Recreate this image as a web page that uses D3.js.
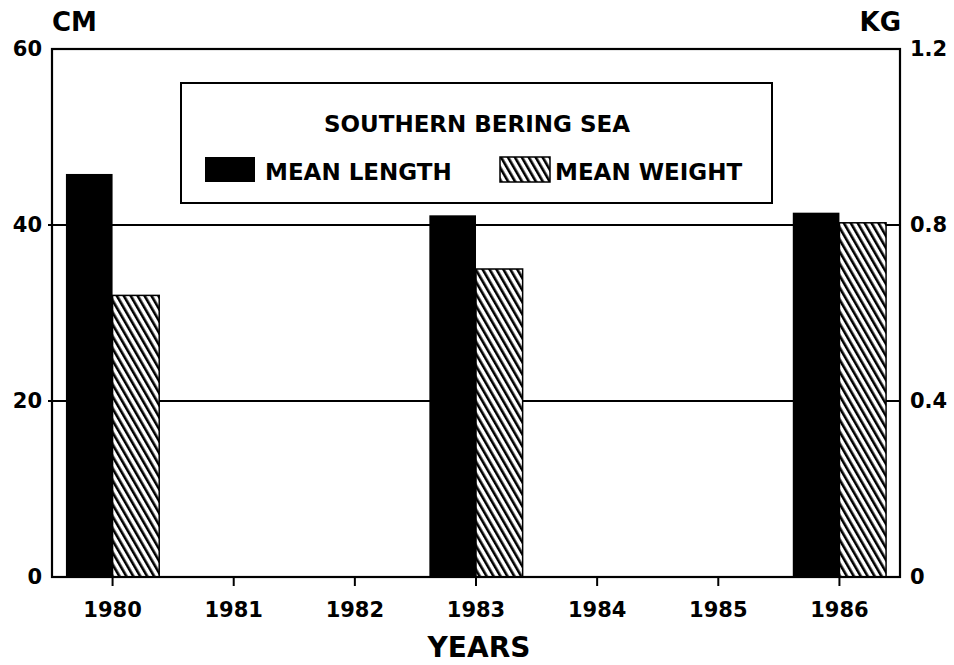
<!DOCTYPE html>
<html><head><meta charset="utf-8">
<script src="https://cdn.jsdelivr.net/npm/d3@7"></script>
<style>body{margin:0;background:#fff}svg{display:block}text{font-family:"DejaVu Sans",sans-serif;fill:#000}</style>
</head><body><svg id="c" width="954" height="665"></svg>
<script>
const years = ["1980","1981","1982","1983","1984","1985","1986"];
const meanLength = [45.8, null, null, 41.1, null, null, 41.4];   // CM
const meanWeight = [0.64, null, null, 0.70, null, null, 0.805];  // KG
const cmTicks = [0, 20, 40, 60];
const kgTicks = [0, 0.4, 0.8, 1.2];
const gridTicks = [20, 40];

const svg = d3.select("#c");
const L = 52, R = 900, T = 49, B = 577;
const FONT = "'DejaVu Sans', sans-serif";

const x = d3.scaleBand().domain(years).range([L, R]).padding(0);
const yCm = d3.scaleLinear().domain([0, 60]).range([B, T]);
const yKg = d3.scaleLinear().domain([0, 1.2]).range([B, T]);
const barW = x.bandwidth() * 0.385;

// hatch pattern
const defs = svg.append("defs");
const pat = defs.append("pattern").attr("id", "hatch").attr("patternUnits", "userSpaceOnUse")
  .attr("width", 6).attr("height", 6).attr("patternTransform", "rotate(-30)");
pat.append("rect").attr("width", 6).attr("height", 6).attr("fill", "#fff");
pat.append("rect").attr("x", 0).attr("width", 2.6).attr("height", 6).attr("fill", "#000");

// gridlines
svg.append("g").selectAll("line").data(gridTicks).join("line")
  .attr("x1", L - 4).attr("x2", R).attr("y1", d => yCm(d)).attr("y2", d => yCm(d))
  .attr("stroke", "#000").attr("stroke-width", 2);

// bars
const lenData = years.map((y, i) => ({y, v: meanLength[i]})).filter(d => d.v != null);
const wtData = years.map((y, i) => ({y, v: meanWeight[i]})).filter(d => d.v != null);
svg.append("g").selectAll("rect").data(lenData).join("rect")
  .attr("x", d => x(d.y) + x.bandwidth() / 2 - barW).attr("width", barW)
  .attr("y", d => yCm(d.v)).attr("height", d => B - yCm(d.v))
  .attr("fill", "#000");
svg.append("g").selectAll("rect").data(wtData).join("rect")
  .attr("x", d => x(d.y) + x.bandwidth() / 2).attr("width", barW)
  .attr("y", d => yKg(d.v)).attr("height", d => B - yKg(d.v))
  .attr("fill", "url(#hatch)").attr("stroke", "#000").attr("stroke-width", 1.5);

// frame
svg.append("rect").attr("x", L).attr("y", T).attr("width", R - L).attr("height", B - T)
  .attr("fill", "none").attr("stroke", "#000").attr("stroke-width", 2.2);

function styleText(sel, size) {
  sel.selectAll("text").attr("font-size", size).attr("font-weight", "bold").attr("font-family", FONT);
}

// bottom axis
const xa = svg.append("g").attr("transform", `translate(0,${B})`)
  .call(d3.axisBottom(x).tickSize(9).tickPadding(16));
xa.select(".domain").remove();
xa.selectAll("line").attr("stroke", "#000").attr("stroke-width", 2);
styleText(xa, 21);

// left axis
const ya = svg.append("g").attr("transform", `translate(${L},0)`)
  .call(d3.axisLeft(yCm).tickValues(cmTicks).tickSize(0).tickPadding(10));
ya.select(".domain").remove();
styleText(ya, 21);

// right axis
const ra = svg.append("g").attr("transform", `translate(${R},0)`)
  .call(d3.axisRight(yKg).tickValues(kgTicks).tickSize(0).tickPadding(10)
    .tickFormat(d => d === 0 ? "0" : d3.format(".1f")(d)));
ra.select(".domain").remove();
styleText(ra, 21);

// unit labels
svg.append("text").attr("x", L).attr("y", 31).attr("font-size", 26).attr("font-weight", "bold").text("CM");
svg.append("text").attr("x", R + 1).attr("y", 31).attr("text-anchor", "end").attr("font-size", 26).attr("font-weight", "bold").text("KG");

// axis title
svg.append("text").attr("x", 479).attr("y", 657).attr("text-anchor", "middle")
  .attr("font-size", 28).attr("font-weight", "bold").text("YEARS");

// legend
const lg = svg.append("g");
lg.append("rect").attr("x", 181).attr("y", 83).attr("width", 591).attr("height", 120)
  .attr("fill", "#fff").attr("stroke", "#000").attr("stroke-width", 2);
lg.append("text").attr("x", 477).attr("y", 132).attr("text-anchor", "middle")
  .attr("font-size", 23).attr("font-weight", "bold").text("SOUTHERN BERING SEA");
lg.append("rect").attr("x", 205).attr("y", 157).attr("width", 50).attr("height", 25).attr("fill", "#000");
lg.append("text").attr("x", 265).attr("y", 180).attr("font-size", 23).attr("font-weight", "bold").text("MEAN LENGTH");
lg.append("rect").attr("x", 500).attr("y", 157).attr("width", 50).attr("height", 25)
  .attr("fill", "url(#hatch)").attr("stroke", "#000").attr("stroke-width", 1.5);
lg.append("text").attr("x", 555).attr("y", 180).attr("font-size", 23).attr("font-weight", "bold").text("MEAN WEIGHT");
</script></body></html>
